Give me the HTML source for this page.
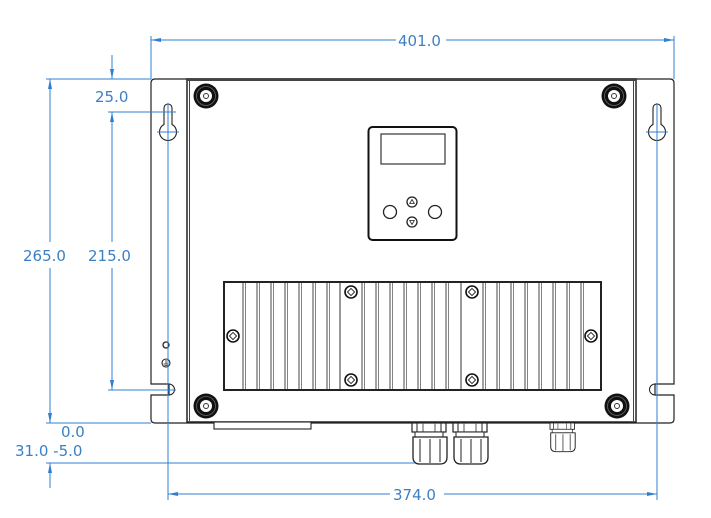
<!DOCTYPE html>
<html><head><style>
html,body{margin:0;padding:0;background:#fff;}
svg{display:block;}
text{font-family:"DejaVu Sans","Liberation Sans",sans-serif;fill:#3c7fc4;font-size:15px;}
</style></head><body>
<svg width="711" height="518" viewBox="0 0 711 518" xmlns="http://www.w3.org/2000/svg">
<defs>
<g id="bigscrew"><circle r="12.5" fill="#111"/><circle r="9.5" fill="none" stroke="#666" stroke-width="0.8"/><circle r="6" fill="#fff"/><circle r="2.5" fill="none" stroke="#333" stroke-width="1"/></g>
<g id="smscrew"><circle r="6" fill="#fff" stroke="#111" stroke-width="1.6"/><rect x="-2.5" y="-2.5" width="5" height="5" transform="rotate(45)" fill="none" stroke="#333" stroke-width="1"/></g>
<g id="fin"><line x1="0" y1="283" x2="0" y2="389" stroke="#333" stroke-width="0.9"/><line x1="2.5" y1="283" x2="2.5" y2="389" stroke="#777" stroke-width="0.9"/></g>
<g id="gland">
<rect x="0" y="0" width="34" height="9" fill="#fff" stroke="#222" stroke-width="1.2"/>
<line x1="5" y1="0" x2="5" y2="9" stroke="#222"/><line x1="29" y1="0" x2="29" y2="9" stroke="#222"/>
<line x1="11" y1="0" x2="11" y2="9" stroke="#555"/><line x1="23" y1="0" x2="23" y2="9" stroke="#555"/>
<rect x="3" y="9" width="28" height="5" fill="#fff" stroke="#222"/>
<path d="M1 14 H35 V34 Q35 41 28 41 H8 Q1 41 1 34 Z" fill="#fff" stroke="#222" stroke-width="1.3"/>
<line x1="8" y1="16" x2="8" y2="39" stroke="#222"/><line x1="18" y1="16" x2="18" y2="40" stroke="#222"/><line x1="28" y1="16" x2="28" y2="39" stroke="#222"/>
</g>
<marker id="ar" viewBox="0 0 10 6" refX="10" refY="3" markerWidth="10" markerHeight="6" orient="auto" markerUnits="userSpaceOnUse"><path d="M0 1 L10 3 L0 5 Z" fill="#2f7fd1"/></marker>
</defs>

<path d="M151 83 Q151 79 155 79 H670 Q674 79 674 83 V384 H655 V395 H674 V419 Q674 423 670 423 H155 Q151 423 151 419 V395 H169 V384 H151 Z" fill="#fff" stroke="#222" stroke-width="1.2"/>
<path d="M169 384 A5.5 5.5 0 0 1 169 395" fill="none" stroke="#222"/>
<path d="M655 384 A5.5 5.5 0 0 0 655 395" fill="none" stroke="#222"/>
<rect x="187" y="79" width="449" height="343" fill="#fff" stroke="#222" stroke-width="1.5"/>
<line x1="189.5" y1="80" x2="189.5" y2="421" stroke="#444" stroke-width="1"/>
<line x1="633.5" y1="80" x2="633.5" y2="421" stroke="#444" stroke-width="1"/>
<line x1="187" y1="80" x2="636" y2="80" stroke="#444" stroke-width="2"/>
<path d="M164 108 V124.5 A8.5 8.5 0 1 0 172 124.5 V108 A4 4 0 0 0 164 108 Z" fill="#fff" stroke="#222" stroke-width="1.1"/>
<path d="M653 108 V124.5 A8.5 8.5 0 1 0 661 124.5 V108 A4 4 0 0 0 653 108 Z" fill="#fff" stroke="#222" stroke-width="1.1"/>
<use href="#bigscrew" x="206" y="96"/>
<use href="#bigscrew" x="614" y="96"/>
<use href="#bigscrew" x="206" y="406"/>
<use href="#bigscrew" x="617" y="406"/>
<rect x="368.5" y="127" width="88" height="113" rx="4" fill="#fff" stroke="#111" stroke-width="2"/>
<rect x="381" y="134" width="64" height="30" fill="#fff" stroke="#222" stroke-width="1.1"/>
<circle cx="390" cy="212" r="6.5" fill="#fff" stroke="#222" stroke-width="1.3"/>
<circle cx="435" cy="212" r="6.5" fill="#fff" stroke="#222" stroke-width="1.3"/>
<circle cx="412" cy="202" r="5" fill="#fff" stroke="#222" stroke-width="1.3"/>
<circle cx="412" cy="222" r="5" fill="#fff" stroke="#222" stroke-width="1.3"/>
<path d="M412 199.5 L414.3 203.5 H409.7 Z" fill="none" stroke="#222" stroke-width="0.8"/>
<path d="M412 224.5 L414.3 220.5 H409.7 Z" fill="none" stroke="#222" stroke-width="0.8"/>
<rect x="224" y="282" width="377" height="108" fill="#fff" stroke="#222" stroke-width="2"/>
<use href="#fin" x="243"/><use href="#fin" x="257"/><use href="#fin" x="271"/><use href="#fin" x="285"/><use href="#fin" x="299"/><use href="#fin" x="313"/><use href="#fin" x="327"/>
<line x1="340" y1="283" x2="340" y2="389" stroke="#333"/>
<use href="#fin" x="362"/><use href="#fin" x="376"/><use href="#fin" x="390"/><use href="#fin" x="404"/><use href="#fin" x="418"/><use href="#fin" x="432"/><use href="#fin" x="446"/>
<line x1="461" y1="283" x2="461" y2="389" stroke="#333"/>
<use href="#fin" x="483"/><use href="#fin" x="497"/><use href="#fin" x="511"/><use href="#fin" x="525"/><use href="#fin" x="539"/><use href="#fin" x="553"/><use href="#fin" x="567"/><use href="#fin" x="581"/>
<use href="#smscrew" x="351" y="292"/><use href="#smscrew" x="351" y="380"/>
<use href="#smscrew" x="472" y="292"/><use href="#smscrew" x="472" y="380"/>
<use href="#smscrew" x="233" y="336"/><use href="#smscrew" x="591" y="336"/>
<circle cx="166" cy="345" r="3" fill="none" stroke="#222" stroke-width="1.3"/>
<circle cx="166" cy="363" r="4" fill="none" stroke="#222" stroke-width="1.1"/>
<path d="M166 360 V364 M163.5 364 H168.5 M164.5 365.5 H167.5" stroke="#222" stroke-width="0.8"/>
<rect x="214" y="422" width="97" height="7" fill="#fff" stroke="#222" stroke-width="1.1"/>
<use href="#gland" x="412" y="423"/>
<use href="#gland" x="453" y="423"/>
<g transform="translate(550,423) scale(0.72,0.7)"><use href="#gland"/></g>

<g stroke="#2f7fd1" stroke-width="1" fill="none">
<line x1="151" y1="36" x2="151" y2="79"/>
<line x1="674" y1="36" x2="674" y2="79"/>
<line x1="160" y1="40" x2="151" y2="40" marker-end="url(#ar)"/>
<line x1="160" y1="40" x2="396" y2="40"/>
<line x1="446" y1="40" x2="665" y2="40"/>
<line x1="660" y1="40" x2="674" y2="40" marker-end="url(#ar)"/>
<line x1="46" y1="79" x2="151" y2="79"/>
<line x1="46" y1="423" x2="151" y2="423"/>
<line x1="50" y1="95" x2="50" y2="79" marker-end="url(#ar)"/>
<line x1="50" y1="95" x2="50" y2="242"/>
<line x1="50" y1="268" x2="50" y2="408"/>
<line x1="50" y1="408" x2="50" y2="423" marker-end="url(#ar)"/>
<line x1="112" y1="55" x2="112" y2="79" marker-end="url(#ar)"/>
<line x1="108" y1="112" x2="176" y2="112"/>
<line x1="112" y1="128" x2="112" y2="112" marker-end="url(#ar)"/>
<line x1="112" y1="128" x2="112" y2="242"/>
<line x1="112" y1="268" x2="112" y2="375"/>
<line x1="112" y1="375" x2="112" y2="390" marker-end="url(#ar)"/>
<line x1="108" y1="390" x2="176" y2="390"/>
<line x1="168" y1="103" x2="168" y2="500"/>
<line x1="157" y1="132" x2="179" y2="132"/>
<line x1="657" y1="103" x2="657" y2="500"/>
<line x1="646" y1="132" x2="668" y2="132"/>
<line x1="46" y1="463" x2="415" y2="463"/>
<line x1="50" y1="488" x2="50" y2="478"/>
<line x1="50" y1="478" x2="50" y2="463" marker-end="url(#ar)"/>
<line x1="180" y1="494" x2="168" y2="494" marker-end="url(#ar)"/>
<line x1="180" y1="494" x2="390" y2="494"/>
<line x1="444" y1="494" x2="645" y2="494"/>
<line x1="645" y1="494" x2="657" y2="494" marker-end="url(#ar)"/>
</g>
<text x="398" y="46">401.0</text>
<text x="95" y="102">25.0</text>
<text x="23" y="261">265.0</text>
<text x="88" y="261">215.0</text>
<text x="61" y="437">0.0</text>
<text x="15" y="456">31.0 -5.0</text>
<text x="393" y="500">374.0</text>
</svg>
</body></html>
